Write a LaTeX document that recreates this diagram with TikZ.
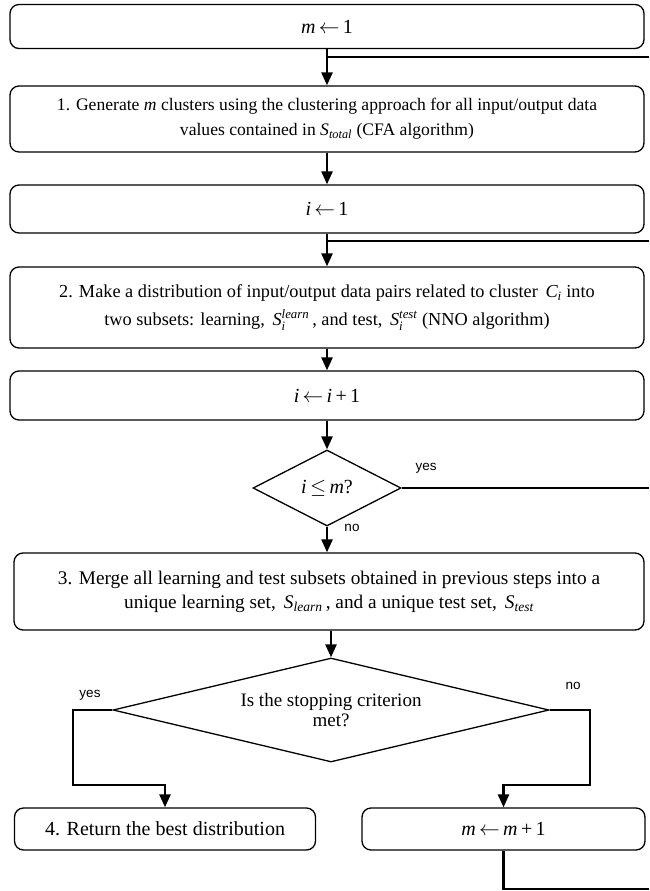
\documentclass[tikz,border=0pt]{standalone}
\usepackage{amsmath}
\usepackage{fontspec}
\setmainfont{Liberation Serif}
\newfontfamily\labelfont{Liberation Sans}
\usetikzlibrary{arrows.meta,shapes.geometric}
\newcommand{\ital}[1]{\textit{#1}}
\begin{document}
\begin{tikzpicture}[x=1pt,y=-1pt,
  stepbox/.style={draw, rounded corners=9pt, line width=1.3pt, inner sep=0pt,
    align=center, font=\fontsize{20}{25}\selectfont},
  decision/.style={draw, diamond, line width=1.3pt, inner sep=0pt,
    align=center, font=\fontsize{20}{21}\selectfont},
  flow/.style={line width=2.6pt},
  arrow/.style={flow, -{Triangle[length=13pt,width=11pt]}},
  answer/.style={font=\labelfont\fontsize{13.5}{15}\selectfont, inner sep=0pt}]
\useasboundingbox (0,0) rectangle (649,891);

% main column of steps
\node[stepbox, minimum width=634pt, minimum height=44pt] (b0) at (327,26.5)
  {\ital{m}\,$\leftarrow$\,1};
\node[stepbox, minimum width=634pt, minimum height=66pt,
  font=\fontsize{17.6}{25}\selectfont] (b1) at (327,119)
  {1. Generate \ital{m} clusters using the clustering approach for all input/output data\\
   values contained in $\textit{S}_{\textit{total}}$ (CFA algorithm)};
\node[stepbox, minimum width=634pt, minimum height=48pt] (b2) at (327,209)
  {\ital{i}\,$\leftarrow$\,1};
\node[stepbox, minimum width=634pt, minimum height=81pt,
  font=\fontsize{18.3}{28}\selectfont] (b3) at (327,307.5)
  {2. Make a distribution of input/output data pairs related to cluster \,$\textit{C}_{\textit{i}}$ into\\
   two subsets: learning, \,$\textit{S}_{\textit{i}}^{\textit{learn}}$\,, and test, \,$\textit{S}_{\textit{i}}^{\textit{test}}$ (NNO algorithm)};
\node[stepbox, minimum width=634pt, minimum height=49pt] (b4) at (327,395.5)
  {\ital{i}\,$\leftarrow$\,\ital{i}\,+\,1};
\node[decision, minimum width=148pt, minimum height=76pt, aspect=2] (d1) at (327,488)
  {\ital{i}\,$\leq$\,\ital{m}?};
\node[stepbox, minimum width=630pt, minimum height=77pt,
  font=\fontsize{19.3}{24}\selectfont] (b5) at (329,591.5)
  {3. Merge all learning and test subsets obtained in previous steps into a\\
   unique learning set, \,$\textit{S}_{\textit{learn}}$\,, and a unique test set, \,$\textit{S}_{\textit{test}}$};
\node[decision, minimum width=436pt, minimum height=104pt, aspect=4.2,
  font=\fontsize{19}{20}\selectfont] (d2) at (331,710)
  {Is the stopping criterion\\ met?};
\node[stepbox, minimum width=301pt, minimum height=42pt] (b6) at (165,829)
  {4. Return the best distribution};
\node[stepbox, minimum width=283pt, minimum height=42pt] (b7) at (503.5,829)
  {\ital{m}\,$\leftarrow$\,\ital{m}\,+\,1};

% loop returns leaving to the right
\coordinate (fb1) at (649,57);
\coordinate (fb2) at (649,241);
\coordinate (fb3) at (649,488);
\coordinate (fb4) at (649,889);
\coordinate (ycorner) at (73,785);
\coordinate (ncorner) at (590,785);

% straight flow
\draw[arrow] (b0) -- (b1);
\draw[arrow] (b1) -- (b2);
\draw[arrow] (b2) -- (b3);
\draw[arrow] (b3) -- (b4);
\draw[arrow] (b4) -- (d1);
\draw[arrow] (d1.south) -- (d1.south |- b5.north);
\draw[arrow] (b5.south -| d2.north) -- (d2.north);
\draw[flow] (fb1) -- (fb1 -| b0.south);
\draw[flow] (fb2) -- (fb2 -| b2.south);
\draw[flow] (d1.east) -- (fb3);
\draw[flow] (b7.south) |- (fb4);

% branches of the stopping test
\draw[arrow] (d2.west) -| (ycorner) -| (b6.north);
\draw[arrow] (d2.east) -| (ncorner) -| (b7.north);

% branch labels
\node[answer] (l1) at (426,468) {yes};
\node[answer] (l2) at (352,528) {no};
\node[answer] (l3) at (90,695) {yes};
\node[answer] (l4) at (573,686) {no};
\end{tikzpicture}
\end{document}
